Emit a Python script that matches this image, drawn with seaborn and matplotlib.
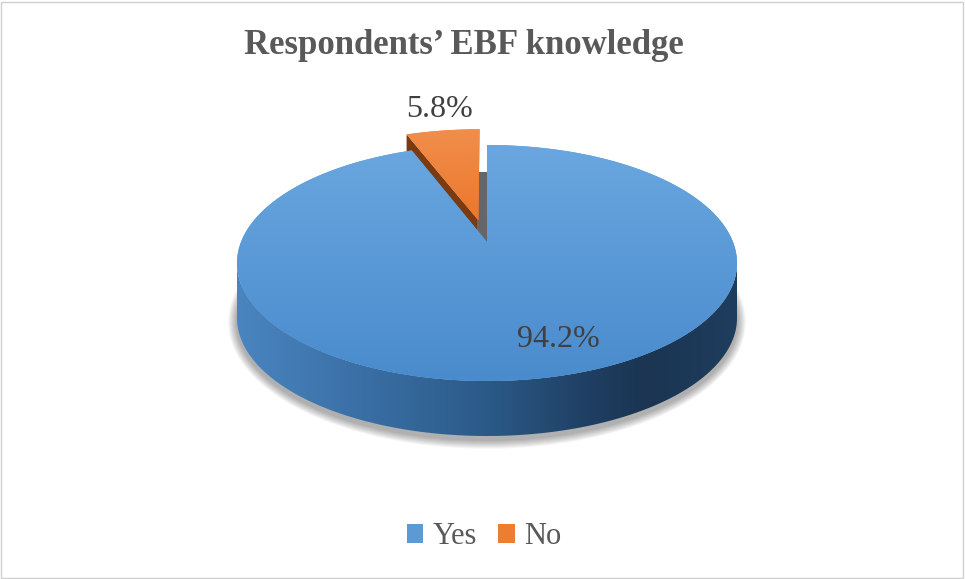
import numpy as np
import matplotlib
matplotlib.use("Agg")
import matplotlib.pyplot as plt
import seaborn as sns
from matplotlib.patches import Polygon, Patch, Rectangle, Ellipse
from matplotlib.colors import LinearSegmentedColormap

# ---- data ----
categories = ["Yes", "No"]
values = [94.2, 5.8]
explode = [0.0, 0.2]
title = "Respondents\u2019 EBF knowledge"

sns.set_theme(style="white")
plt.rcParams['font.family'] = ['Liberation Serif', 'DejaVu Serif']

top_colors = ["#5B9BD5", "#ED7D31"]

W, H = 965, 579
fig = plt.figure(figsize=(W / 100, H / 100), dpi=100)
ax = fig.add_axes([0, 0, 1, 1])
rx, ry = 250.0, 118.0
cx, cy = 487.0, 263.0
d = 55.0 / ry           # depth of pie side in data units
y0 = 21.0 / ry          # perspective shift of the pie centre (toward the back)
s0 = np.sqrt(1 - y0 ** 2)


def persp(pts):
    """Projective map keeping the unit circle fixed, moving its centre to (0, y0)."""
    pts = np.asarray(pts, float)
    x, y = pts[:, 0], pts[:, 1]
    den = 1 + y0 * y
    return np.column_stack([x * s0 / den, (y + y0) / den])


def wedge_outline(w, n=400):
    c = np.array(w.center)
    th = np.deg2rad(np.linspace(w.theta1, w.theta2, n))
    arc = c + w.r * np.column_stack([np.cos(th), np.sin(th)])
    return np.vstack([c, arc])


# ---- shadow under the pie ----
for i in range(8):
    e = Ellipse((0, -d - 4 / ry), 2 + (2 + i * 2.2) / rx, 2 + (2 + i * 2.2) / ry,
                facecolor="#000000", alpha=0.045, lw=0, zorder=1)
    ax.add_patch(e)

# ---- side band (front wall) ----
t = np.linspace(np.pi, 2 * np.pi, 300)
top_arc = np.column_stack([np.cos(t), np.sin(t)])
bot_arc = np.column_stack([np.cos(t[::-1]), np.sin(t[::-1]) - d])
side_poly = Polygon(np.vstack([top_arc, bot_arc]), closed=True, facecolor="none",
                    edgecolor="none", zorder=2)
ax.add_patch(side_poly)
side_cmap = LinearSegmentedColormap.from_list(
    "side", [(0, "#4A85C0"), (0.25, "#3A6FA5"), (0.5, "#2B5A88"),
             (0.72, "#1E3D60"), (0.82, "#1B3552"), (1, "#1F3D5E")])
grad = np.linspace(0, 1, 512).reshape(1, -1)
im = ax.imshow(grad, extent=(-1, 1, -1 - d, 0.05), cmap=side_cmap, aspect="auto",
               zorder=2, interpolation="bicubic")
im.set_clip_path(side_poly)

# ---- pie (computed by matplotlib, then drawn in perspective) ----
wedges, _ = ax.pie(values, startangle=90, counterclock=False, radius=1.0,
                   explode=explode, colors=top_colors, wedgeprops=dict(linewidth=0))
for w in wedges:
    w.set_visible(False)

yes_w, no_w = wedges
vgrad = np.linspace(0, 1, 256).reshape(-1, 1)

# brown radial side face of the exploded No wedge (lower part hidden by Yes top)
c_no = np.array(no_w.center)
a2 = np.deg2rad(no_w.theta2)
edge = np.array([c_no, c_no + no_w.r * np.array([np.cos(a2), np.sin(a2)])])
edge_p = persp(edge)
dd = 40 / ry
ax.add_patch(Polygon([edge_p[0], edge_p[1], edge_p[1] - [0, dd], edge_p[0] - [0, dd]],
                     closed=True, facecolor="#7A3A12", edgecolor="none", zorder=2.6))

# gray inner wall / shadow at the 12 o'clock cut
tip = edge_p[0]
ax.add_patch(Polygon([(tip[0] - 1 / rx, y0), (0, y0), (0, 91 / ry), (tip[0] - 1 / rx, 91 / ry)],
                     closed=True, facecolor="#666666", edgecolor="none", zorder=2.7))

# Yes top face
yes_poly = Polygon(persp(wedge_outline(yes_w)), closed=True, facecolor=top_colors[0],
                   edgecolor="none", zorder=3)
ax.add_patch(yes_poly)
blue_cmap = LinearSegmentedColormap.from_list("bt", ["#6AA7E0", "#4A8BCD"])
imb = ax.imshow(vgrad, extent=(-1, 1, -1, 1), cmap=blue_cmap, aspect="auto",
                zorder=3.1, origin="upper", interpolation="bicubic")
imb.set_clip_path(yes_poly)

# No top face
no_poly = Polygon(persp(wedge_outline(no_w)), closed=True, facecolor=top_colors[1],
                  edgecolor="none", zorder=3.5)
ax.add_patch(no_poly)
orange_cmap = LinearSegmentedColormap.from_list("ot", ["#F1904F", "#EA7324"])
imo = ax.imshow(vgrad, extent=(-1, 1, 0.2, 1.2), cmap=orange_cmap, aspect="auto",
                zorder=3.6, origin="upper", interpolation="bicubic")
imo.set_clip_path(no_poly)

# ---- data labels ----
lab_kw = dict(fontsize=23, color="#404040", ha="center", va="baseline", zorder=5)
ax.text((558 - cx) / rx, (cy - 347) / ry, f"{values[0]:.1f}%", **lab_kw)
ax.text((439 - cx) / rx, (cy - 117) / ry, f"{values[1]:.1f}%", **lab_kw)

ax.set_xlim(-cx / rx, (W - cx) / rx)
ax.set_ylim(-(H - cy) / ry, cy / ry)
ax.axis("off")

# ---- title ----
fig.text(464 / W, 1 - 54 / H, title, ha="center", va="baseline", fontsize=25,
         fontweight="bold", color="#595959")

# ---- legend ----
handles = [Patch(facecolor=c, edgecolor="none") for c in top_colors]
leg = ax.legend(handles, categories, loc="center", ncol=2, frameon=False,
                bbox_to_anchor=(484 / W, 1 - 537 / H), bbox_transform=fig.transFigure,
                prop=dict(family="Liberation Serif", size=22), handlelength=0.55,
                handleheight=0.55, handletextpad=0.3, columnspacing=0.7)
for txt in leg.get_texts():
    txt.set_color("#595959")

# ---- outer border ----
fig.patches.append(Rectangle((1 / W, 1 / H), 1 - 3 / W, 1 - 3 / H, transform=fig.transFigure,
                             fill=False, edgecolor="#D0D0D0", lw=1))

fig.savefig("out.png", dpi=100, facecolor="white")
